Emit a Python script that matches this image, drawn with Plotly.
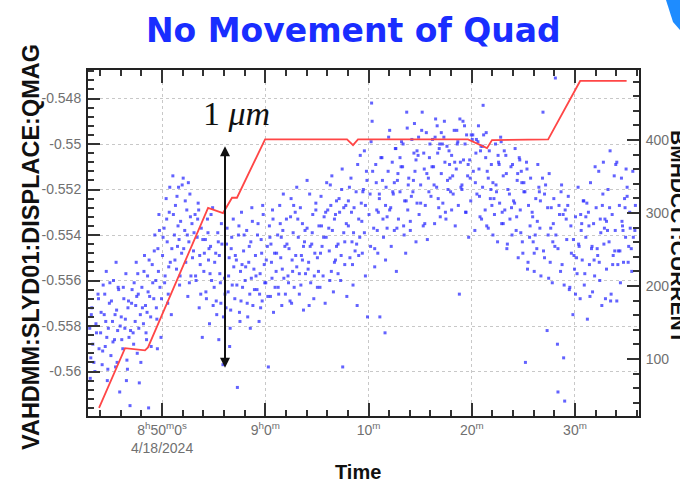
import plotly.graph_objects as go

# ---- data (time in minutes after 08:50:00 on 4/18/2024) ----
current_time = [-6.10, -3.58, -1.65, -1.36, 4.46, 5.91, 6.78, 7.26, 9.98, 17.92, 18.5, 18.98,
                29.64, 31.48, 31.96, 37.4, 40.5, 45.0]
current_value = [33, 115, 112, 116, 307, 300, 321, 321, 401, 401, 393, 401,
                 401, 389, 400, 401, 481, 481]

qmag_points_a = [
    (-7.0, -0.5581), (-6.9, -0.5594), (-6.8, -0.5572), (-6.7, -0.5588), (-6.5, -0.5600), (-6.4, -0.5579), (-6.2, -0.5566), (-6.1, -0.5590),
    (-5.95, -0.5583), (-5.8, -0.5597), (-5.7, -0.5562), (-5.6, -0.5575), (-5.5, -0.5589), (-5.4, -0.5556), (-5.3, -0.5604), (-5.2, -0.5581), (-5.1, -0.5570),
    (-4.95, -0.5593), (-4.8, -0.5578), (-4.7, -0.5560), (-4.6, -0.5586), (-4.5, -0.5598), (-4.4, -0.5573), (-4.3, -0.5582), (-4.2, -0.5564), (-4.1, -0.5609),
    (-3.95, -0.5576), (-3.8, -0.5590), (-3.7, -0.5568), (-3.6, -0.5581), (-3.5, -0.5557), (-3.4, -0.5595), (-3.3, -0.5572), (-3.2, -0.5585), (-3.1, -0.5615),
    (-2.95, -0.5570), (-2.8, -0.5583), (-2.7, -0.5561), (-2.6, -0.5578), (-2.5, -0.5552), (-2.4, -0.5592), (-2.3, -0.5566), (-2.2, -0.5605), (-2.1, -0.5575),
    (-1.95, -0.5563), (-1.8, -0.5579), (-1.7, -0.5549), (-1.6, -0.5571), (-1.5, -0.5586), (-1.4, -0.5558), (-1.3, -0.5616), (-1.2, -0.5567), (-1.1, -0.5576),
    (-0.95, -0.5553), (-0.8, -0.5568), (-0.7, -0.5540), (-0.6, -0.5560), (-0.5, -0.5577), (-0.4, -0.5546), (-0.3, -0.5531), (-0.2, -0.5563), (-0.1, -0.5585),
    (0.05, -0.5549), (0.2, -0.5537), (0.3, -0.5558), (0.4, -0.5524), (0.5, -0.5543), (0.6, -0.5566), (0.7, -0.5530), (0.8, -0.5552), (0.9, -0.5575),
    (1.05, -0.5514), (1.2, -0.5540), (1.3, -0.5527), (1.4, -0.5555), (1.5, -0.5545), (1.6, -0.5519), (1.7, -0.5562), (1.8, -0.5534), (1.9, -0.5548),
    (2.05, -0.5515), (2.2, -0.5538), (2.3, -0.5552), (2.4, -0.5529), (2.5, -0.5567), (2.6, -0.5543), (2.7, -0.5522), (2.8, -0.5558), (2.9, -0.5535),
    (3.05, -0.5547), (3.2, -0.5531), (3.3, -0.5560), (3.4, -0.5541), (3.5, -0.5526), (3.6, -0.5572), (3.7, -0.5553), (3.8, -0.5537), (3.9, -0.5585),
    (4.05, -0.5556), (4.2, -0.5542), (4.3, -0.5568), (4.4, -0.5533), (4.5, -0.5551), (4.6, -0.5579), (4.7, -0.5545), (4.8, -0.5560), (4.9, -0.5528),
    (5.05, -0.5563), (5.2, -0.5548), (5.3, -0.5575), (5.4, -0.5539), (5.5, -0.5586), (5.6, -0.5557), (5.7, -0.5570), (5.8, -0.5544), (5.9, -0.5597),
    (6.05, -0.5559), (6.2, -0.5572), (6.3, -0.5537), (6.4, -0.5565), (6.5, -0.5550), (6.6, -0.5581), (6.7, -0.5546), (6.8, -0.5562), (6.9, -0.5533),
    (7.05, -0.5568), (7.2, -0.5551), (7.3, -0.5607), (7.4, -0.5540), (7.5, -0.5574), (7.6, -0.5556), (7.7, -0.5530), (7.8, -0.5563), (7.9, -0.5547),
    (8.05, -0.5560), (8.2, -0.5538), (8.3, -0.5576), (8.4, -0.5552), (8.5, -0.5566), (8.6, -0.5543), (8.7, -0.5528), (8.8, -0.5571), (8.9, -0.5555),
    (9.05, -0.5549), (9.2, -0.5564), (9.3, -0.5535), (9.4, -0.5578), (9.5, -0.5557), (9.6, -0.5542), (9.7, -0.5569), (9.8, -0.5531), (9.9, -0.5553),
    (10.05, -0.5561), (10.2, -0.5545), (10.3, -0.5598), (10.4, -0.5536), (10.5, -0.5567), (10.6, -0.5552), (10.7, -0.5529), (10.8, -0.5574), (10.9, -0.5548),
    (11.05, -0.5556), (11.2, -0.5540), (11.3, -0.5566), (11.4, -0.5527), (11.5, -0.5550), (11.6, -0.5571), (11.7, -0.5538), (11.8, -0.5559), (11.9, -0.5545),
    (12.05, -0.5533), (12.2, -0.5558), (12.3, -0.5546), (12.4, -0.5569), (12.5, -0.5524), (12.6, -0.5551), (12.7, -0.5539), (12.8, -0.5563), (12.9, -0.5530),
    (13.05, -0.5554), (13.2, -0.5541), (13.3, -0.5566), (13.4, -0.5528), (13.5, -0.5549), (13.6, -0.5535), (13.7, -0.5573), (13.8, -0.5543), (13.9, -0.5557),
    (14.05, -0.5537), (14.2, -0.5552), (14.3, -0.5522), (14.4, -0.5561), (14.5, -0.5544), (14.6, -0.5531), (14.7, -0.5568), (14.8, -0.5548), (14.9, -0.5526),
    (15.05, -0.5550), (15.2, -0.5536), (15.3, -0.5563), (15.4, -0.5523), (15.5, -0.5545), (15.6, -0.5558), (15.7, -0.5532), (15.8, -0.5570), (15.9, -0.5541),
    (16.05, -0.5529), (16.2, -0.5547), (16.3, -0.5518), (16.4, -0.5556), (16.5, -0.5538), (16.6, -0.5565), (16.7, -0.5533), (16.8, -0.5551), (16.9, -0.5525),
    (17.05, -0.5544), (17.2, -0.5530), (17.3, -0.5560), (17.4, -0.5520), (17.5, -0.5598), (17.6, -0.5539), (17.7, -0.5553), (17.8, -0.5527), (17.9, -0.5567),
    (18.05, -0.5536), (18.2, -0.5550), (18.3, -0.5515), (18.4, -0.5543), (18.5, -0.5562), (18.6, -0.5528), (18.7, -0.5547), (18.8, -0.5521), (18.9, -0.5571),
    (19.05, -0.5533), (19.2, -0.5505), (19.3, -0.5526), (19.4, -0.5548), (19.5, -0.5520), (19.6, -0.5539), (19.7, -0.5558), (19.8, -0.5512), (19.9, -0.5576),
    (20.05, -0.5531), (20.2, -0.5545), (20.3, -0.5482), (20.35, -0.5490), (20.5, -0.5537), (20.6, -0.5554), (20.7, -0.5509), (20.8, -0.5529), (20.9, -0.5548),
    (21.05, -0.5524), (21.1, -0.5576), (21.3, -0.5506), (21.4, -0.5533), (21.6, -0.5583), (21.65, -0.5551), (21.7, -0.5519), (21.8, -0.5537), (21.9, -0.5512),
    (22.05, -0.5529), (22.2, -0.5545), (22.3, -0.5508), (22.4, -0.5522), (22.5, -0.5538), (22.6, -0.5502), (22.7, -0.5556), (22.8, -0.5516), (22.9, -0.5533),
    (23.05, -0.5521), (23.2, -0.5499), (23.3, -0.5510), (23.4, -0.5536), (23.5, -0.5525), (23.6, -0.5548), (23.7, -0.5486), (23.8, -0.5529), (23.9, -0.5515),
    (24.05, -0.5534), (24.2, -0.5498), (24.3, -0.5521), (24.4, -0.5504), (24.5, -0.5512), (24.6, -0.5543), (24.7, -0.5526), (24.8, -0.5505), (24.9, -0.5531),
    (25.05, -0.5518), (25.2, -0.5486), (25.3, -0.5536), (25.4, -0.5511), (25.5, -0.5527), (25.6, -0.5495), (25.7, -0.5542), (25.8, -0.5515), (25.9, -0.5506),
    (26.05, -0.5523), (26.2, -0.5498), (26.3, -0.5510), (26.4, -0.5535), (26.5, -0.5489), (26.6, -0.5519), (26.7, -0.5504), (26.8, -0.5528), (26.9, -0.5500),
    (27.05, -0.5513), (27.2, -0.5526), (27.3, -0.5497), (27.4, -0.5508), (27.5, -0.5533), (27.6, -0.5501), (27.7, -0.5520), (27.8, -0.5503), (27.9, -0.5515),
    (28.05, -0.5505), (28.2, -0.5522), (28.3, -0.5494), (28.4, -0.5536), (28.5, -0.5511), (28.6, -0.5500), (28.7, -0.5527), (28.8, -0.5566), (28.9, -0.5508),
    (29.05, -0.5518), (29.2, -0.5507), (29.3, -0.5492), (29.4, -0.5530), (29.5, -0.5496), (29.6, -0.5514), (29.7, -0.5541), (29.8, -0.5507), (29.9, -0.5525),
    (30.05, -0.5498), (30.1, -0.5496), (30.3, -0.5538), (30.4, -0.5504), (30.5, -0.5522), (30.6, -0.5499), (30.7, -0.5511), (30.8, -0.5532), (30.9, -0.5501),
    (31.05, -0.5519), (31.1, -0.5483), (31.3, -0.5529), (31.4, -0.5495), (31.5, -0.5512), (31.6, -0.5537), (31.7, -0.5503), (31.8, -0.5524), (31.9, -0.5509),
    (32.05, -0.5517), (32.2, -0.5531), (32.3, -0.5500), (32.4, -0.5521), (32.5, -0.5543), (32.6, -0.5508), (32.7, -0.5526), (32.8, -0.5497), (32.9, -0.5535),
    (33.05, -0.5514), (33.2, -0.5529), (33.3, -0.5505), (33.4, -0.5546), (33.5, -0.5520), (33.7, -0.5533), (33.8, -0.5510), (33.9, -0.5540),
    (34.05, -0.5525), (34.2, -0.5502), (34.3, -0.5538), (34.4, -0.5516), (34.5, -0.5550), (34.6, -0.5506), (34.7, -0.5529), (34.8, -0.5512), (34.9, -0.5543),
    (35.05, -0.5521), (35.2, -0.5596), (35.3, -0.5508), (35.4, -0.5555), (35.5, -0.5527), (35.6, -0.5541), (35.7, -0.5515), (35.9, -0.5532),
    (36.05, -0.5548), (36.2, -0.5524), (36.3, -0.5546), (36.4, -0.5509), (36.5, -0.5519), (36.6, -0.5537), (36.7, -0.5558), (36.9, -0.5486),
    (37.05, -0.5522), (37.3, -0.5582), (37.4, -0.5540), (37.5, -0.5513), (37.6, -0.5552), (37.7, -0.5528), (37.8, -0.5561), (37.9, -0.5535),
    (38.05, -0.5545), (38.1, -0.5471), (38.3, -0.5588), (38.35, -0.5609), (38.5, -0.5531), (38.6, -0.5556), (38.7, -0.5518), (38.9, -0.5594),
    (39.0, -0.5613), (39.2, -0.5542), (39.3, -0.5527), (39.5, -0.5563), (39.6, -0.5536), (39.8, -0.5575), (39.9, -0.5549),
    (40.05, -0.5532), (40.2, -0.5557), (40.3, -0.5519), (40.4, -0.5545), (40.5, -0.5568), (40.6, -0.5538), (40.7, -0.5551), (40.8, -0.5525), (40.9, -0.5562),
    (41.05, -0.5541), (41.2, -0.5577), (41.3, -0.5530), (41.4, -0.5553), (41.5, -0.5517), (41.6, -0.5546), (41.7, -0.5565), (41.8, -0.5535), (41.9, -0.5558),
    (42.05, -0.5528), (42.2, -0.5549), (42.3, -0.5512), (42.4, -0.5560), (42.5, -0.5539), (42.6, -0.5571), (42.7, -0.5522), (42.8, -0.5544), (42.9, -0.5533),
    (43.05, -0.5555), (43.2, -0.5520), (43.3, -0.5543), (43.4, -0.5503), (43.5, -0.5566), (43.6, -0.5531), (43.7, -0.5549), (43.8, -0.5514), (43.9, -0.5538),
    (44.05, -0.5508), (44.2, -0.5547), (44.3, -0.5527), (44.4, -0.5561), (44.5, -0.5515), (44.6, -0.5536), (44.7, -0.5552), (44.8, -0.5524), (44.9, -0.5541),
    (45.05, -0.5519), (45.2, -0.5545), (45.3, -0.5530), (45.5, -0.5556), (45.6, -0.5512), (45.8, -0.5538),
]

qmag_points_b = [
    (-6.85, -0.5575), (-6.6, -0.5596), (-6.35, -0.5583), (-6.15, -0.5568), (-6.95, -0.5603),
    (-5.9, -0.5574), (-5.75, -0.5591), (-5.55, -0.5566), (-5.35, -0.5585), (-5.25, -0.5599), (-5.05, -0.5561), (-5.45, -0.5578),
    (-4.9, -0.5569), (-4.75, -0.5587), (-4.55, -0.5575), (-4.35, -0.5596), (-4.25, -0.5563), (-4.05, -0.5580), (-4.45, -0.5552),
    (-3.9, -0.5586), (-3.75, -0.5563), (-3.55, -0.5577), (-3.35, -0.5599), (-3.25, -0.5569), (-3.05, -0.5582), (-3.45, -0.5604),
    (-2.9, -0.5564), (-2.75, -0.5588), (-2.55, -0.5571), (-2.35, -0.5557), (-2.25, -0.5581), (-2.05, -0.5596), (-2.45, -0.5567),
    (-1.9, -0.5572), (-1.75, -0.5556), (-1.55, -0.5583), (-1.35, -0.5565), (-1.25, -0.5551), (-1.05, -0.5589), (-1.45, -0.5574),
    (-0.9, -0.5561), (-0.75, -0.5547), (-0.55, -0.5572), (-0.35, -0.5556), (-0.25, -0.5538), (-0.05, -0.5568), (-0.45, -0.5590),
    (0.1, -0.5541), (0.25, -0.5561), (0.45, -0.5533), (0.65, -0.5554), (0.75, -0.5519), (0.95, -0.5546), (0.55, -0.5570),
    (1.1, -0.5531), (1.25, -0.5551), (1.45, -0.5523), (1.65, -0.5542), (1.75, -0.5558), (1.95, -0.5518), (1.55, -0.5536),
    (2.1, -0.5546), (2.25, -0.5525), (2.45, -0.5540), (2.65, -0.5561), (2.75, -0.5532), (2.95, -0.5550), (2.55, -0.5517),
    (3.1, -0.5539), (3.25, -0.5558), (3.45, -0.5533), (3.65, -0.5549), (3.75, -0.5566), (3.95, -0.5542), (3.55, -0.5529),
    (4.1, -0.5548), (4.25, -0.5565), (4.45, -0.5539), (4.65, -0.5557), (4.75, -0.5531), (4.95, -0.5571), (4.55, -0.5546),
    (5.1, -0.5552), (5.25, -0.5569), (5.45, -0.5543), (5.65, -0.5561), (5.75, -0.5535), (5.95, -0.5576), (5.55, -0.5549),
    (6.1, -0.5566), (6.25, -0.5544), (6.45, -0.5558), (6.65, -0.5573), (6.75, -0.5541), (6.95, -0.5554), (6.55, -0.5589),
    (7.1, -0.5549), (7.25, -0.5562), (7.45, -0.5536), (7.65, -0.5569), (7.75, -0.5553), (7.95, -0.5540), (7.55, -0.5578),
    (8.1, -0.5554), (8.25, -0.5570), (8.45, -0.5545), (8.65, -0.5559), (8.75, -0.5534), (8.95, -0.5564), (8.55, -0.5581),
    (9.1, -0.5558), (9.25, -0.5540), (9.45, -0.5566), (9.65, -0.5548), (9.75, -0.5527), (9.95, -0.5561), (9.55, -0.5572),
    (10.1, -0.5551), (10.25, -0.5567), (10.45, -0.5541), (10.65, -0.5559), (10.75, -0.5533), (10.95, -0.5563), (10.55, -0.5544),
    (11.1, -0.5548), (11.25, -0.5563), (11.45, -0.5535), (11.65, -0.5555), (11.75, -0.5522), (11.95, -0.5566), (11.55, -0.5541),
    (12.1, -0.5544), (12.25, -0.5561), (12.45, -0.5532), (12.65, -0.5556), (12.75, -0.5527), (12.95, -0.5549), (12.55, -0.5570),
    (13.85, -0.5538), (13.3, -0.5557), (13.15, -0.5533), (13.6, -0.5551), (13.05, -0.5519), (13.45, -0.5562), (13.7, -0.5545),
    (14.35, -0.5545), (14.9, -0.5529), (14.15, -0.5555), (14.55, -0.5539), (14.05, -0.5516), (14.75, -0.5558), (14.25, -0.5571),
    (15.65, -0.5541), (15.15, -0.5556), (15.85, -0.5530), (15.35, -0.5548), (15.95, -0.5517), (15.05, -0.5563), (15.45, -0.5536),
    (16.15, -0.5537), (16.7, -0.5552), (16.35, -0.5527), (16.9, -0.5545), (16.45, -0.5514), (16.25, -0.5560), (16.8, -0.5531),
    (17.85, -0.5535), (17.35, -0.5549), (17.15, -0.5524), (17.7, -0.5543), (17.45, -0.5511), (17.05, -0.5557), (17.6, -0.5528),
    (18.35, -0.5530), (18.85, -0.5544), (18.15, -0.5519), (18.55, -0.5539), (18.95, -0.5509), (18.45, -0.5553), (18.05, -0.5525),
    (19.7, -0.5527), (19.15, -0.5541), (19.85, -0.5516), (19.35, -0.5534), (19.6, -0.5503), (19.05, -0.5549), (19.45, -0.5521),
    (20.15, -0.5522), (20.85, -0.5538), (20.4, -0.5512), (20.95, -0.5530), (20.25, -0.5499), (20.6, -0.5546), (20.75, -0.5517),
    (21.35, -0.5516), (21.8, -0.5532), (21.2, -0.5506), (21.65, -0.5527), (21.95, -0.5497), (21.45, -0.5541), (21.05, -0.5522),
    (22.85, -0.5513), (22.15, -0.5528), (22.65, -0.5502), (22.35, -0.5521), (22.05, -0.5494), (22.75, -0.5537), (22.5, -0.5517),
    (23.15, -0.5510), (23.65, -0.5525), (23.35, -0.5500), (23.85, -0.5518), (23.45, -0.5540), (23.05, -0.5506), (23.75, -0.5493),
    (24.6, -0.5507), (24.15, -0.5523), (24.85, -0.5497), (24.35, -0.5516), (24.05, -0.5538), (24.7, -0.5503), (24.45, -0.5491),
    (25.35, -0.5504), (25.85, -0.5521), (25.15, -0.5494), (25.65, -0.5513), (25.45, -0.5535), (25.95, -0.5500), (25.05, -0.5526),
    (26.85, -0.5502), (26.35, -0.5518), (26.65, -0.5492), (26.15, -0.5510), (26.95, -0.5532), (26.45, -0.5497), (26.75, -0.5524),
    (27.15, -0.5500), (27.65, -0.5516), (27.35, -0.5490), (27.85, -0.5509), (27.45, -0.5530), (27.05, -0.5495), (27.95, -0.5521),
    (28.65, -0.5499), (28.15, -0.5514), (28.85, -0.5489), (28.35, -0.5508), (28.05, -0.5529), (28.55, -0.5494), (28.95, -0.5519),
    (29.35, -0.5500), (29.85, -0.5515), (29.15, -0.5490), (29.65, -0.5509), (29.45, -0.5530), (29.95, -0.5496), (29.05, -0.5520),
    (30.85, -0.5503), (30.35, -0.5517), (30.65, -0.5492), (30.15, -0.5512), (30.95, -0.5533), (30.45, -0.5498), (30.75, -0.5523),
    (31.35, -0.5506), (31.85, -0.5520), (31.15, -0.5496), (31.6, -0.5515), (31.45, -0.5536), (31.05, -0.5501), (31.95, -0.5527),
    (32.65, -0.5509), (32.15, -0.5524), (32.85, -0.5499), (32.35, -0.5518), (32.05, -0.5540), (32.55, -0.5505), (32.95, -0.5530),
    (33.35, -0.5513), (33.85, -0.5528), (33.15, -0.5503), (33.65, -0.5522), (33.45, -0.5544), (33.95, -0.5509), (33.05, -0.5535),
    (34.85, -0.5517), (34.35, -0.5532), (34.65, -0.5507), (34.15, -0.5526), (34.95, -0.5548), (34.45, -0.5513), (34.75, -0.5539),
    (35.15, -0.5521), (35.65, -0.5536), (35.35, -0.5511), (35.85, -0.5530), (35.45, -0.5552), (35.05, -0.5517), (35.95, -0.5543),
    (36.65, -0.5525), (36.15, -0.5540), (36.85, -0.5515), (36.35, -0.5534), (36.05, -0.5556), (36.55, -0.5521), (36.95, -0.5547),
    (37.35, -0.5528), (37.85, -0.5543), (37.15, -0.5518), (37.65, -0.5537), (37.45, -0.5559), (37.95, -0.5524), (37.05, -0.5550),
    (38.85, -0.5531), (38.35, -0.5546), (38.65, -0.5521), (38.15, -0.5540), (38.95, -0.5562), (38.45, -0.5527), (38.75, -0.5553),
    (39.15, -0.5533), (39.65, -0.5548), (39.35, -0.5523), (39.85, -0.5542), (39.45, -0.5564), (39.05, -0.5529), (39.95, -0.5555),
    (40.65, -0.5535), (40.15, -0.5550), (40.85, -0.5525), (40.35, -0.5544), (40.05, -0.5566), (40.55, -0.5531), (40.95, -0.5557),
    (41.35, -0.5536), (41.85, -0.5551), (41.15, -0.5526), (41.65, -0.5545), (41.45, -0.5567), (41.05, -0.5532), (41.95, -0.5510),
    (42.85, -0.5537), (42.35, -0.5552), (42.65, -0.5527), (42.15, -0.5546), (42.95, -0.5568), (42.45, -0.5533), (42.75, -0.5508),
    (43.15, -0.5538), (43.65, -0.5553), (43.35, -0.5528), (43.85, -0.5547), (43.45, -0.5569), (43.05, -0.5534), (43.95, -0.5509),
    (44.65, -0.5538), (44.15, -0.5553), (44.85, -0.5528), (44.35, -0.5547), (44.05, -0.5569), (44.55, -0.5534), (44.95, -0.5511),
    (45.35, -0.5537), (45.15, -0.5552), (45.85, -0.5527), (45.45, -0.5546), (45.05, -0.5523), (45.65, -0.5541),
]

qmag_all = qmag_points_a + qmag_points_b
qmag_time = [p[0] for p in qmag_all]
qmag_value = [p[1] for p in qmag_all]

x_tickvals = [0, 10, 20, 30, 40]
x_ticktext = ["8<sup>h</sup>50<sup>m</sup>0<sup>s</sup><br>4/18/2024", "9<sup>h</sup>0<sup>m</sup>",
              "10<sup>m</sup>", "20<sup>m</sup>", "30<sup>m</sup>"]
y_tickvals = [-0.548, -0.55, -0.552, -0.554, -0.556, -0.558, -0.56]
y_ticktext = ["-0.548", "-0.55", "-0.552", "-0.554", "-0.556", "-0.558", "-0.56"]
y2_tickvals = [100, 200, 300, 400]

# ---- layout geometry ----
W, H = 680, 483
L, R, T, B = 88, 41, 70, 67
PW, PH = W - L - R, H - T - B


def px(x):
    return (x - L) / PW


def py(y):
    return (H - B - y) / PH


tickfont = dict(family="Liberation Sans, Arial, sans-serif", size=14, color="#707070")

fig = go.Figure()
fig.add_trace(go.Scatter(
    x=qmag_time, y=qmag_value, mode="markers",
    marker=dict(symbol="square", size=3, color="rgba(45,45,255,0.75)", line=dict(width=0)),
    showlegend=False, hoverinfo="skip"))
fig.add_trace(go.Scatter(
    x=current_time, y=current_value, yaxis="y2", mode="lines",
    line=dict(color="rgb(255,70,70)", width=1.8),
    showlegend=False, hoverinfo="skip"))

fig.update_layout(
    width=W, height=H, margin=dict(l=L, r=R, t=T, b=B, pad=0),
    paper_bgcolor="white", plot_bgcolor="white",
    xaxis=dict(range=[-7.17, 46.2], tickmode="array", tickvals=x_tickvals, ticktext=x_ticktext,
               ticks="inside", ticklen=13, tickwidth=2, tickcolor="#333",
               minor=dict(tick0=0, dtick=2, ticks="inside", ticklen=6, tickwidth=2, tickcolor="#333", showgrid=False),
               showgrid=True, gridcolor="#c8c8c8", griddash="dot", gridwidth=1,
               showline=True, linecolor="#222", linewidth=2, mirror="ticks",
               tickfont=tickfont, zeroline=False),
    yaxis=dict(range=[-0.561956, -0.546747], tickmode="array", tickvals=y_tickvals, ticktext=y_ticktext,
               ticks="inside", ticklen=12, tickwidth=2, tickcolor="#333",
               minor=dict(tick0=-0.56, dtick=0.0004, ticks="inside", ticklen=6, tickwidth=2, tickcolor="#333", showgrid=False),
               showgrid=True, gridcolor="#c8c8c8", griddash="dot", gridwidth=1,
               showline=True, linecolor="#222", linewidth=2, mirror=True,
               tickfont=tickfont, zeroline=False, ticklabelstandoff=2),
    yaxis2=dict(range=[22, 496], overlaying="y", side="right", tickmode="array", tickvals=y2_tickvals,
                ticks="inside", ticklen=12, tickwidth=2, tickcolor="#333",
                minor=dict(tick0=0, dtick=20, ticks="inside", ticklen=6, tickwidth=2, tickcolor="#333", showgrid=False),
                showgrid=False, showline=True, linecolor="#222", linewidth=2,
                tickfont=tickfont, zeroline=False, ticklabelstandoff=2),
)

fig.add_annotation(xref="paper", yref="paper", x=px(353), y=py(30), text="<b>No Movement of Quad</b>",
                   showarrow=False, font=dict(family="DejaVu Sans, Verdana, sans-serif", size=33, color="rgb(25,45,255)"),
                   xanchor="center", yanchor="middle")
fig.add_annotation(xref="paper", yref="paper", x=px(31), y=py(247), text="<b>VAHDMM:SLYD01:DISPLACE:QMAG</b>",
                   showarrow=False, textangle=-90, font=dict(family="Liberation Sans, Arial, sans-serif", size=23.5, color="#111"),
                   xanchor="center", yanchor="middle")
fig.add_annotation(xref="paper", yref="paper", x=px(678), y=py(237), text="<b>BMHDCCT:CURRENT</b>",
                   showarrow=False, textangle=90, font=dict(family="Liberation Sans, Arial, sans-serif", size=21, color="#111"),
                   xanchor="center", yanchor="middle")
fig.add_annotation(xref="paper", yref="paper", x=px(358), y=py(472), text="<b>Time</b>",
                   showarrow=False, font=dict(family="Liberation Sans, Arial, sans-serif", size=20, color="#111"),
                   xanchor="center", yanchor="middle")
fig.add_annotation(xref="x", yref="y", x=7.2, y=-0.54864, text="1 <i>μm</i>",
                   showarrow=False, font=dict(family="Liberation Serif, Times New Roman, serif", size=34, color="#111"),
                   xanchor="center", yanchor="middle")
fig.add_annotation(xref="x", yref="y", axref="x", ayref="y", x=6.1, y=-0.5501, ax=6.1, ay=-0.5599,
                   text="", showarrow=True, arrowside="end+start", arrowhead=2, arrowsize=1,
                   arrowwidth=2, arrowcolor="#111")

fig.add_shape(type="path", xref="paper", yref="paper",
              path=f"M {px(666)} {py(0)} L {px(680)} {py(0)} L {px(680)} {py(30)} L {px(673)} {py(22)} Z",
              fillcolor="rgb(30,140,255)", line=dict(width=0), layer="above")

fig.write_html("out.html")
